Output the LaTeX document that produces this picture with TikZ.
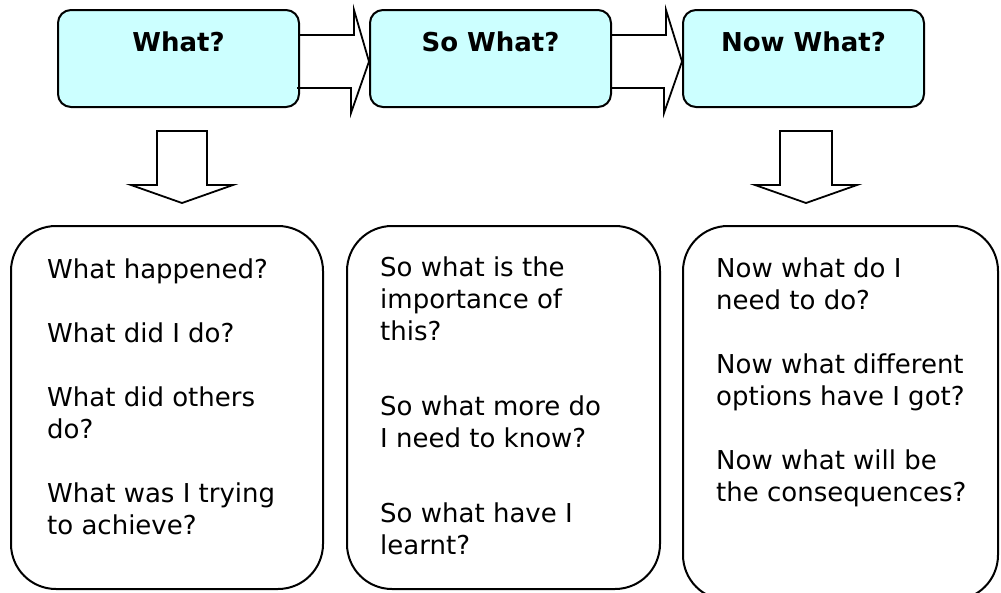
\documentclass[tikz,border=0pt]{standalone}
\usepackage{fontspec}
\setmainfont{DejaVu Sans}
\usetikzlibrary{calc}

\definecolor{stagecyan}{HTML}{CCFFFF}

\tikzset{
	stage/.style={draw, fill=stagecyan, line width=2pt, rounded corners=13pt,
		minimum width=241pt, minimum height=97pt, inner sep=0pt},
	stagetitle/.style={font=\fontsize{26}{32}\selectfont\bfseries, inner sep=0pt, anchor=base},
	listbox/.style={draw, line width=2pt, rounded corners=45pt, inner sep=0pt},
	% base of a multi-line node is the baseline of its last line
	listtext/.style={font=\fontsize{26}{32}\selectfont, align=left, inner sep=0pt, anchor=base west},
	blockarrow/.style={draw, line width=1.8pt, line join=miter}
}

\begin{document}
\begin{tikzpicture}[x=1pt, y=1pt, yscale=-1]
	\clip (0,0) rectangle (1001,592);

	% the three stages
	\node[stage] (what) at (178.5,58.5) {};
	\node[stage] (sowhat) at (490.5,58.5) {};
	\node[stage] (nowwhat) at (803.5,58.5) {};
	\node[stagetitle] (whattitle) at ($(what.north)+(0,42)$) {What?};
	\node[stagetitle] (sowhattitle) at ($(sowhat.north)+(0,42)$) {So What?};
	\node[stagetitle] (nowwhattitle) at ($(nowwhat.north)+(0,42)$) {Now What?};

	% block arrows between the stages
	\draw[blockarrow] (what.east) ++(0,-23.5) -- ++(54,0) -- ++(0,-25)
		-- ($(sowhat.west)+(0,3)$) -- ++(-18,51.5) -- ++(0,-25) -- ++(-54,0);
	\draw[blockarrow] (sowhat.east) ++(0,-23.5) -- ++(54,0) -- ++(0,-25)
		-- ($(nowwhat.west)+(0,3)$) -- ++(-18,51.5) -- ++(0,-25) -- ++(-54,0);

	% down arrows
	\draw[blockarrow] (what.south) ++(-21.5,23) -- ++(50,0) -- ++(0,54) -- ++(26,0)
		-- ++(-51,18) -- ++(-51,-18) -- ++(26,0) -- cycle;
	\draw[blockarrow] (nowwhat.south) ++(-23.5,23) -- ++(52,0) -- ++(0,54) -- ++(25,0)
		-- ++(-51,18) -- ++(-51,-18) -- ++(25,0) -- cycle;

	% question boxes
	\node[listbox, minimum width=312pt, minimum height=363pt] (whatlist) at (167,407.5) {};
	\node[listbox, minimum width=313pt, minimum height=363pt] (sowhatlist) at (503.5,407.5) {};
	\node[listbox, minimum width=315pt, minimum height=374pt] (nowwhatlist) at (840.5,413) {};

	\node[listtext] (whatq) at (47,534) {What happened?\\[32pt]
		What did I do?\\[32pt]
		What did others\\do?\\[32pt]
		What was I trying\\to achieve?};
	\node[listtext] (sowhatq) at (380,554) {So what is the\\importance of\\this?\\[43pt]
		So what more do\\I need to know?\\[43pt]
		So what have I\\learnt?};
	\node[listtext] (nowwhatq) at (716,501) {Now what do I\\need to do?\\[32pt]
		Now what different\\options have I got?\\[32pt]
		Now what will be\\the consequences?};
\end{tikzpicture}
\end{document}
